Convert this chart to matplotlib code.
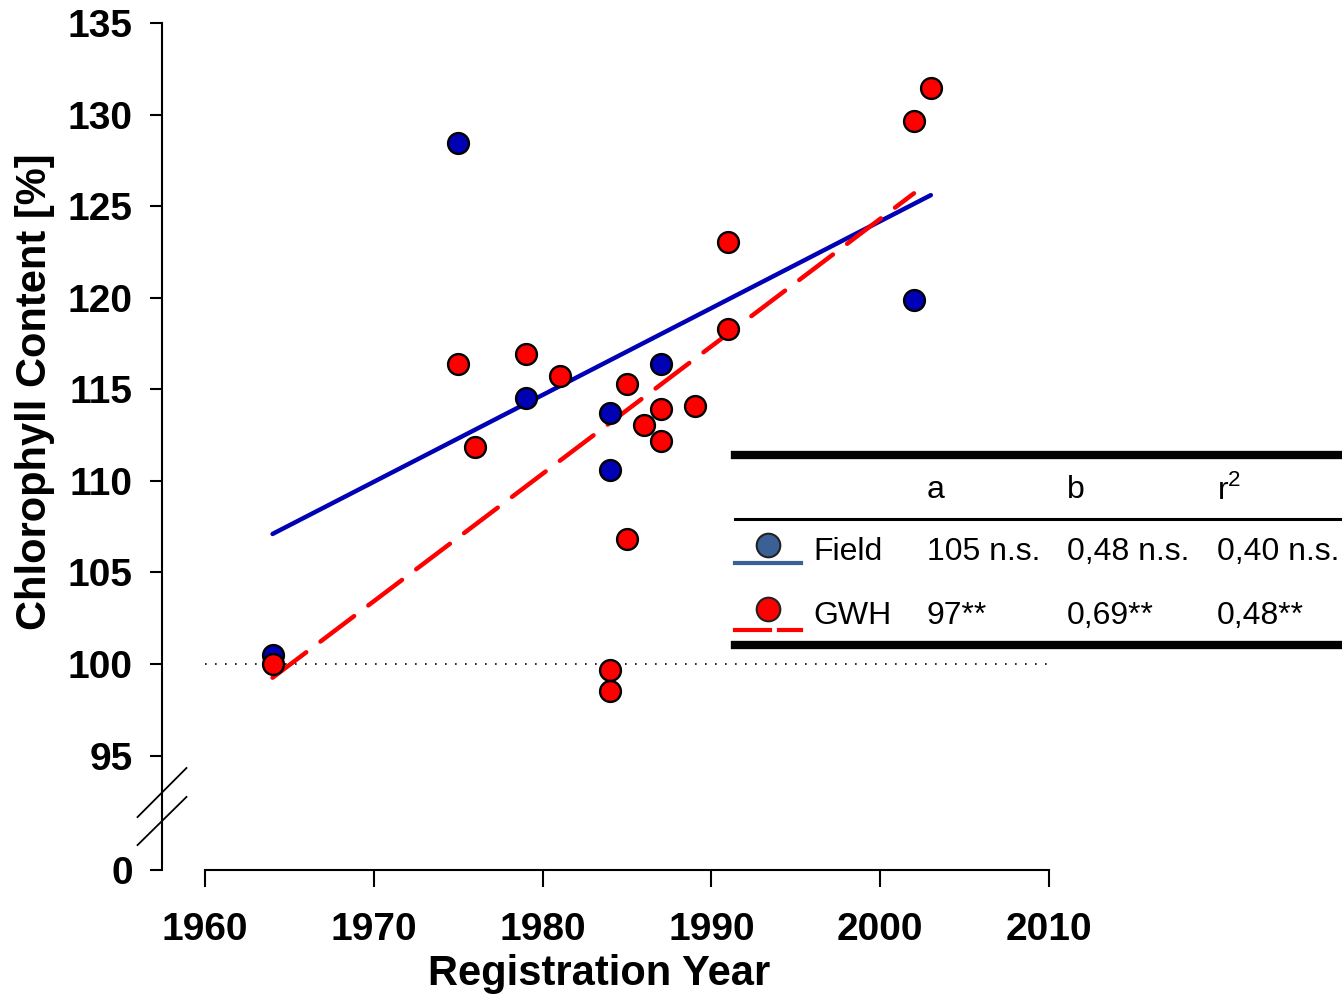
import matplotlib
matplotlib.use("Agg")
import matplotlib.pyplot as plt
from matplotlib.lines import Line2D

plt.rcParams['font.family'] = ['Liberation Sans', 'DejaVu Sans']

# --- data -------------------------------------------------------------
field_year = [1964, 1975, 1979, 1984, 1984, 1987, 2002]
field_val = [100.5, 128.45, 114.5, 113.7, 110.6, 116.4, 119.9]

gwh_year = [1964, 1975, 1976, 1979, 1981, 1984, 1984, 1985, 1985, 1986,
            1987, 1987, 1989, 1991, 1991, 2002, 2003]
gwh_val = [100.0, 116.4, 111.85, 116.9, 115.7, 99.67, 98.5, 115.3, 106.8, 113.05,
           113.9, 112.2, 114.1, 123.05, 118.3, 129.66, 131.46]

field_fit_x = [1964, 2003]
field_fit_y = [107.1, 125.6]
gwh_fit_x = [1964, 2002]
gwh_fit_y = [99.25, 125.7]

x_ticks = [1960, 1970, 1980, 1990, 2000, 2010]
y_ticks = [95, 100, 105, 110, 115, 120, 125, 130, 135]
y_zero = 88.75          # where the "0" sits below the axis break

tab_head = ["a", "b", r"r$^{\mathregular{2}}$"]
tab_rows = ["Field", "GWH"]
tab_vals = [["105 n.s.", "0,48 n.s.", "0,40 n.s."],
            ["97**", "0,69**", "0,48**"]]

BLUE = "#0000B4"; RED = "#FF0000"
LEG_BLUE = "#3B6096"

W, H = 1342, 996
fig = plt.figure(figsize=(W / 100, H / 100), dpi=100)
def fx(px): return px / W
def fy(py): return 1 - py / H

ax = fig.add_axes([fx(162), fy(870), fx(1049) - fx(162), fy(23) - fy(870)])
ax.set_xlim(1957.45, 2010)
ax.set_ylim(y_zero, 135)

ax.plot([1960, 2010], [100, 100], color="black", lw=1.2, ls=(0, (1, 5)), zorder=1)
ax.plot(field_fit_x, field_fit_y, color=BLUE, lw=3.2, solid_capstyle="round", zorder=2)
ax.plot(gwh_fit_x, gwh_fit_y, color=RED, lw=3.2, ls=(0, (9.5, 4)),
        dash_capstyle="round", zorder=2)
ax.plot(field_year, field_val, ls="none", marker="o", ms=15, mfc=BLUE, mec="black",
        mew=1.7, zorder=3, clip_on=False)
ax.plot(gwh_year, gwh_val, ls="none", marker="o", ms=15, mfc=RED, mec="black",
        mew=1.7, zorder=4, clip_on=False)

for s in ["top", "right"]:
    ax.spines[s].set_visible(False)
ax.spines["left"].set_linewidth(1.5)
ax.spines["bottom"].set_linewidth(1.5)
ax.spines["bottom"].set_bounds(1960, 2010)

ax.set_xticks(x_ticks)
ax.set_xticklabels([str(t) for t in x_ticks], fontsize=28, fontweight="bold")
ax.set_yticks([y_zero] + y_ticks)
ax.set_yticklabels(["0"] + [str(t) for t in y_ticks], fontsize=28, fontweight="bold")
ax.tick_params(axis="x", length=12, width=1.5, pad=18)
ax.tick_params(axis="y", length=9, width=1.5, pad=12)

ax.set_xlabel("Registration Year", fontsize=30, fontweight="bold")
ax.xaxis.set_label_coords((599 - 162) / 887, (870 - 974) / 847)
ax.xaxis.label.set_va("center")
ax.set_ylabel("Chlorophyll Content [%]", fontsize=30, fontweight="bold")
ax.yaxis.set_label_coords((35 - 162) / 887, (870 - 392) / 847)
ax.yaxis.label.set_va("center")

# axis break marks
for y0, y1 in [(91.64, 94.32), (90.11, 92.74)]:
    ax.plot([1956.0, 1958.9], [y0, y1], color="black", lw=1.3, clip_on=False)

# --- regression table ------------------------------------------------------
def hline(py, x0, x1, lw, color="black"):
    fig.add_artist(Line2D([fx(x0), fx(x1)], [fy(py), fy(py)], color=color,
                          lw=lw, transform=fig.transFigure))

hline(455, 735, 1342, 6)
hline(519, 735, 1342, 2.2)
hline(645, 735, 1342, 6)

col_x = [927, 1067, 1217]
for x, t in zip(col_x, tab_head):
    fig.text(fx(x), fy(490), t, fontsize=23, va="center", ha="left")
row_y = [552, 616]
for y, name, vals in zip(row_y, tab_rows, tab_vals):
    fig.text(fx(813), fy(y), name, fontsize=23, va="center", ha="left")
    for x, v in zip(col_x, vals):
        fig.text(fx(x), fy(y), v, fontsize=23, va="center", ha="left")

hline(563, 735, 801, 3, color=LEG_BLUE)
fig.add_artist(Line2D([fx(768)], [fy(545)], marker="o", ms=17, mfc=LEG_BLUE, mec="#222222",
                      mew=1.5, transform=fig.transFigure))
hline(630, 735, 770, 3, color=RED)
hline(630, 779, 801, 3, color=RED)
fig.add_artist(Line2D([fx(768)], [fy(609)], marker="o", ms=17, mfc=RED, mec="#222222",
                      mew=1.5, transform=fig.transFigure))

fig.savefig("out.png", dpi=100)
